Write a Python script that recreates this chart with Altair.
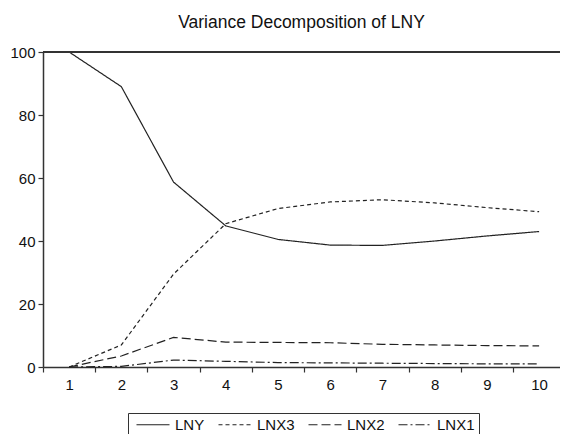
import altair as alt
import pandas as pd

periods = [1, 2, 3, 4, 5, 6, 7, 8, 9, 10]
series_names = ["LNY", "LNX3", "LNX2", "LNX1"]
lny = [100.0, 89.0, 58.7, 44.8, 40.5, 38.7, 38.6, 40.0, 41.6, 43.0]
lnx3 = [0.0, 7.0, 29.5, 45.5, 50.3, 52.4, 53.1, 52.1, 50.6, 49.3]
lnx2 = [0.0, 3.5, 9.4, 7.9, 7.8, 7.7, 7.2, 7.0, 6.8, 6.7]
lnx1 = [0.0, 0.2, 2.2, 1.8, 1.4, 1.3, 1.2, 1.1, 1.0, 1.0]
y_ticks = [0, 20, 40, 60, 80, 100]
x_tick_values = [0.5, 1, 1.5, 2, 2.5, 3, 3.5, 4, 4.5, 5, 5.5, 6, 6.5, 7, 7.5, 8, 8.5, 9, 9.5, 10]

values = {"LNY": lny, "LNX3": lnx3, "LNX2": lnx2, "LNX1": lnx1}
rows = []
for name in series_names:
    for p, v in zip(periods, values[name]):
        rows.append({"period": p, "value": v, "series": name})
df = pd.DataFrame(rows)

FONT = "Liberation Sans"
INK = "#222222"

lines = alt.Chart(df).mark_line(color=INK, strokeWidth=1.2).encode(
    x=alt.X(
        "period:Q",
        scale=alt.Scale(domain=[0.5, 10.4], nice=False, zero=False),
        axis=alt.Axis(
            values=x_tick_values,
            labelExpr="datum.value % 1 == 0 ? format(datum.value, 'd') : ''",
            tickOpacity={"condition": {"test": "datum.value % 1 == 0", "value": 0}, "value": 1},
            title=None,
            labelPadding=5,
            labelOverlap=False,
        ),
    ),
    y=alt.Y(
        "value:Q",
        scale=alt.Scale(domain=[0, 100], nice=False),
        axis=alt.Axis(values=y_ticks, title=None, labelPadding=3),
    ),
    strokeDash=alt.StrokeDash(
        "series:N",
        scale=alt.Scale(domain=series_names, range=[[1, 0], [4, 3], [9, 4], [9, 3, 2, 3]]),
        legend=alt.Legend(
            orient="none",
            legendX=85,
            legendY=361,
            direction="horizontal",
            title=None,
            symbolType="M-1,0H4.5",
            symbolStrokeColor=INK,
            symbolFillColor="transparent",
            symbolStrokeWidth=1.2,
            symbolSize=144,
            symbolOffset=3,
            labelFontSize=15,
            labelFont=FONT,
            labelColor="#111111",
            strokeColor="#333333",
            padding=4,
            columnPadding=9,
            labelOffset=25,
        ),
    ),
)

top_rule = alt.Chart(pd.DataFrame({"top": [100]})).mark_rule(color="#333333", strokeWidth=2).encode(
    y="top:Q"
)

chart = (
    alt.layer(lines, top_rule)
    .properties(
        width=517,
        height=315,
        autosize="none",
        padding={"left": 35, "top": 44, "right": 0, "bottom": 67},
        title=alt.Title(
            "Variance Decomposition of LNY",
            fontSize=17.5,
            font=FONT,
            fontWeight="normal",
            color="#111111",
            offset=14,
        ),
    )
    .configure_view(stroke=None)
    .configure_axis(
        grid=False,
        domainColor="#333333",
        domainWidth=1.5,
        tickColor="#333333",
        tickWidth=1.2,
        tickSize=5,
        labelFontSize=15,
        labelFont=FONT,
        labelColor="#111111",
    )
)

chart.save("out.html", embed_options={"renderer": "svg", "actions": False})
